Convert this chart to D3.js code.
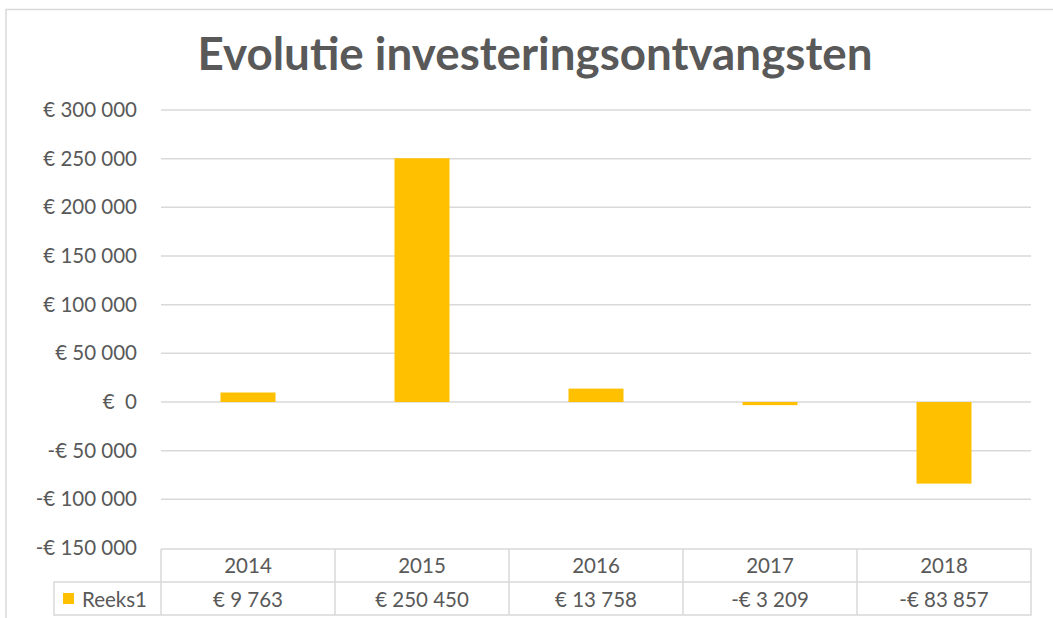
<!DOCTYPE html>
<html>
  <head>
    <meta charset="utf-8">
    <title>Evolutie investeringsontvangsten</title>
    <script src="https://d3js.org/d3.v7.min.js"></script>
    <style>
      body { margin: 0; background: #fff; }
      text { font-family: Lato, "Open Sans", sans-serif; white-space: pre; }
    </style>
  </head>
  <body>
    <script type="text/javascript">

      // data
      var years = ["2014", "2015", "2016", "2017", "2018"];
      var values = [9763, 250450, 13758, -3209, -83857];
      var seriesName = "Reeks1";
      var yTicks = [-150000, -100000, -50000, 0, 50000, 100000, 150000, 200000, 250000, 300000];

      var w = 1053;
      var h = 618;
      var grey = "#595959";
      var lineCol = "#d9d9d9";
      var barCol = "#ffc000";
      var fs = 20.5;

      // euro format like Excel: "€ 250 450", "-€ 83 857", "€  0"
      function euro(v) {
        if (v === 0) return "€  0";
        var s = d3.format(",")(Math.abs(v)).replace(/,/g, " ");
        return (v < 0 ? "-€ " : "€ ") + s;
      }

      var svg = d3.select("body")
                  .append("svg")
                  .attr("width", w)
                  .attr("height", h);

      // outer frame
      svg.append("path")
         .attr("d", "M6," + h + "V9.5H" + w)
         .attr("fill", "none")
         .attr("stroke", lineCol)
         .attr("stroke-width", 1.5);

      // title
      var title = svg.append("text")
         .attr("x", 535)
         .attr("y", 70)
         .attr("text-anchor", "middle")
         .attr("font-weight", "bold")
         .attr("font-size", 38)
         .attr("fill", grey)
         .text("Evolutie investeringsontvangsten");
      // fit to width of original
      var tw = title.node().getComputedTextLength();
      title.attr("font-size", 38 * 675 / tw);

      // scales
      var xScale = d3.scaleBand()
                     .domain(years)
                     .range([161, 1031]);

      var yScale = d3.scaleLinear()
                     .domain([-150000, 300000])
                     .range([548, 110]);

      // gridlines
      svg.selectAll("line.grid")
         .data(yTicks.filter(function(d) { return d > -150000; }))
         .enter()
         .append("line")
         .attr("class", "grid")
         .attr("x1", 161)
         .attr("x2", 1031)
         .attr("y1", function(d) { return yScale(d); })
         .attr("y2", function(d) { return yScale(d); })
         .attr("stroke", lineCol)
         .attr("stroke-width", 1.5);

      // y labels
      svg.selectAll("text.ylab")
         .data(yTicks)
         .enter()
         .append("text")
         .attr("class", "ylab")
         .attr("x", 137)
         .attr("y", function(d) { return yScale(d) + 7; })
         .attr("text-anchor", "end")
         .attr("font-size", fs)
         .attr("fill", grey)
         .text(euro);

      // bars
      var barW = 55;
      svg.selectAll("rect.bar")
         .data(values)
         .enter()
         .append("rect")
         .attr("class", "bar")
         .attr("x", function(d, i) { return xScale(years[i]) + xScale.bandwidth() / 2 - barW / 2; })
         .attr("y", function(d) { return yScale(Math.max(0, d)); })
         .attr("width", barW)
         .attr("height", function(d) { return Math.abs(yScale(d) - yScale(0)); })
         .attr("fill", barCol);

      // data table
      var t0 = 549, t1 = 582, t2 = 615;
      var tbl = svg.append("g")
                   .attr("stroke", lineCol)
                   .attr("stroke-width", 1.5)
                   .attr("fill", "none");
      tbl.append("path").attr("d", "M161," + t0 + "H1031V" + t2 + "H54V" + t1 + "H1031");
      tbl.selectAll("line")
         .data(years.map(function(y) { return xScale(y); }))
         .enter()
         .append("line")
         .attr("x1", function(d) { return d; })
         .attr("x2", function(d) { return d; })
         .attr("y1", t0)
         .attr("y2", t2);

      svg.selectAll("text.year")
         .data(years)
         .enter()
         .append("text")
         .attr("class", "year")
         .attr("x", function(d) { return xScale(d) + xScale.bandwidth() / 2; })
         .attr("y", t0 + 24)
         .attr("text-anchor", "middle")
         .attr("font-size", fs)
         .attr("fill", grey)
         .text(function(d) { return d; });

      svg.selectAll("text.val")
         .data(values)
         .enter()
         .append("text")
         .attr("class", "val")
         .attr("x", function(d, i) { return xScale(years[i]) + xScale.bandwidth() / 2; })
         .attr("y", t1 + 25)
         .attr("text-anchor", "middle")
         .attr("font-size", fs)
         .attr("fill", grey)
         .text(euro);

      // legend key
      svg.append("rect")
         .attr("x", 63)
         .attr("y", 593)
         .attr("width", 11)
         .attr("height", 11)
         .attr("fill", barCol);
      svg.append("text")
         .attr("x", 82)
         .attr("y", t1 + 25)
         .attr("font-size", fs)
         .attr("fill", grey)
         .text(seriesName);

    </script>
  </body>
</html>
